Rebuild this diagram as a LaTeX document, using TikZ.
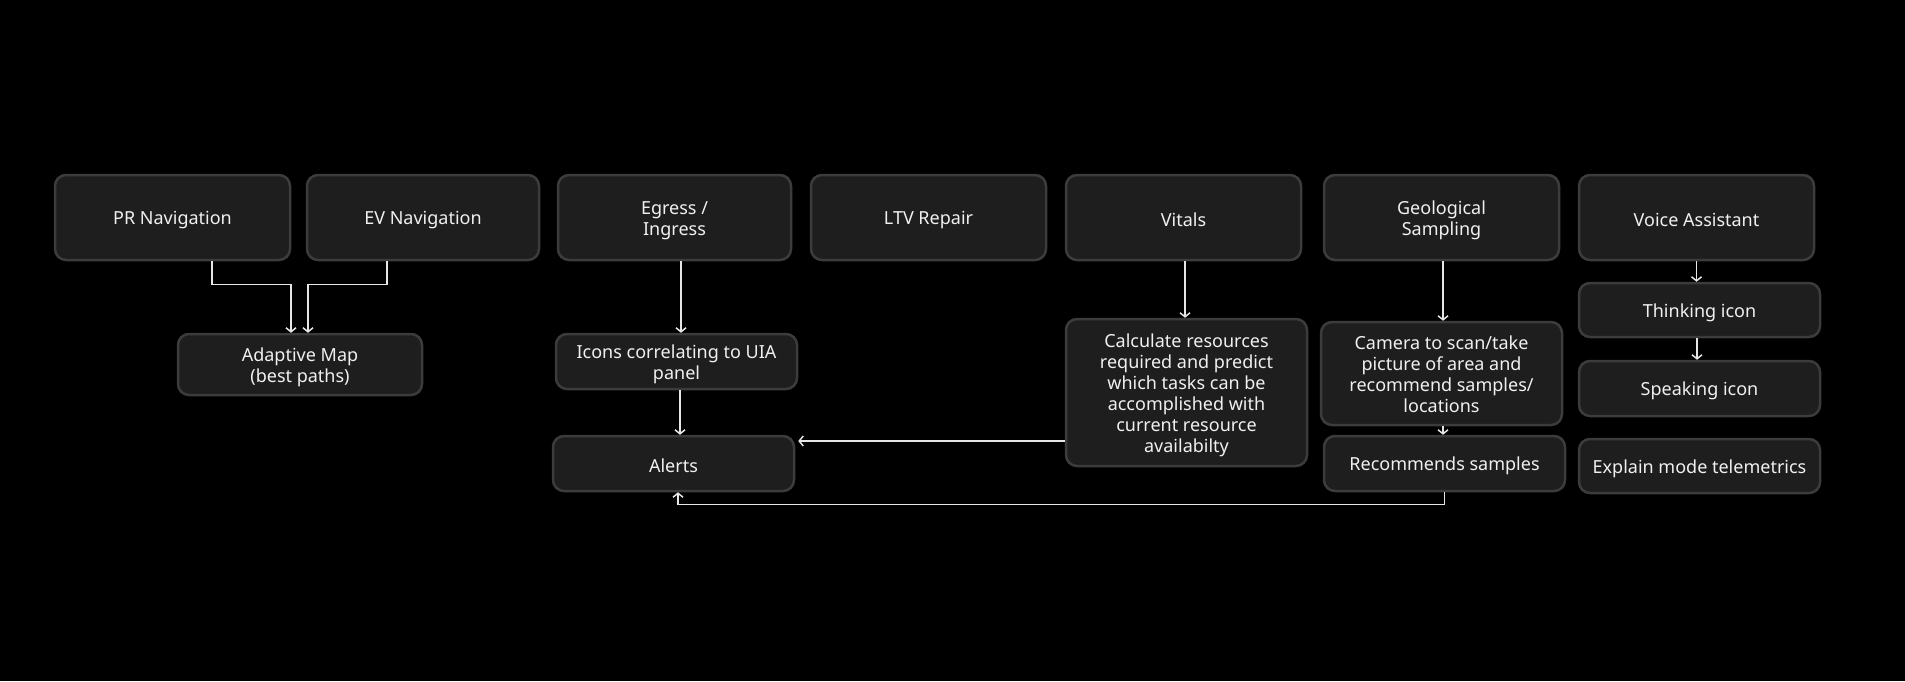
\documentclass[tikz,border=0pt]{standalone}
\usepackage{fontspec}
\setmainfont{Noto Sans}
\usetikzlibrary{arrows.meta}
\definecolor{bg}{HTML}{000000}
\definecolor{boxfill}{HTML}{1E1E1E}
\definecolor{boxline}{HTML}{3C3C3C}
\definecolor{txt}{HTML}{F0F0F0}
\definecolor{wire}{HTML}{E6E6E6}
\newcommand{\topstrut}{\rule{0pt}{19pt}}
\newcommand{\botstrut}{\rule[-2pt]{0pt}{2pt}}
\newcommand{\ml}[1]{\raisebox{-3.3pt}[\height][\depth]{\begin{tabular}{@{}c@{}}#1\end{tabular}}}
\tikzset{
  box/.style={draw=boxline, fill=boxfill, line width=2.5pt, rounded corners=11pt,
    text=txt, align=center, inner sep=0pt, font=\fontsize{18}{21}\selectfont,
    execute at begin node=\topstrut, execute at end node=\botstrut},
  topbox/.style={box, minimum width=235pt, minimum height=85pt},
  arr/.style={draw=wire, line width=1.5pt, -{Straight Barb[length=4pt,width=10pt]}}
}
\begin{document}
\begin{tikzpicture}[x=1pt,y=-1pt]
\fill[bg] (0,0) rectangle (1905,681);
\useasboundingbox (0,0) rectangle (1905,681);
% top row
\node[topbox] (pr)  at (172.5,217.5) {PR Navigation};
\node[topbox, minimum width=232pt] (ev)  at (423,217.5) {EV Navigation};
\node[topbox, minimum width=233pt] (eg)  at (674.5,217.5) {\ml{Egress /\\Ingress}};
\node[topbox] (ltv) at (928.5,217.5) {LTV Repair};
\node[topbox] (vi)  at (1183.5,217.5) {Vitals};
\node[topbox] (geo) at (1441.5,217.5) {\ml{Geological\\Sampling}};
\node[topbox] (va)  at (1696.5,217.5) {Voice Assistant};
% lower boxes
\node[box, minimum width=244pt, minimum height=61pt] (am) at (300,364.5) {\ml{Adaptive Map\\(best paths)}};
\node[box, minimum width=241pt, minimum height=55pt] (ic) at (676.5,361.5) {\ml{Icons correlating to UIA\\panel}};
\node[box, minimum width=241pt, minimum height=55pt] (al) at (673.5,463.5) {Alerts};
\node[box, minimum width=241pt, minimum height=147pt] (ca) at (1186.5,392.5) {\ml{Calculate resources\\required and predict\\which tasks can be\\accomplished with\\current resource\\availabilty}};
\node[box, minimum width=241pt, minimum height=103pt] (cam) at (1441.5,373.5) {\ml{Camera to scan/take\\picture of area and\\recommend samples/\\locations}};
\node[box, minimum width=241pt, minimum height=55pt] (rec) at (1444.5,463.5) {Recommends samples};
\node[box, minimum width=241pt, minimum height=54pt] (th) at (1699.5,310) {Thinking icon};
\node[box, minimum width=241pt, minimum height=55pt] (sp) at (1699.5,388.5) {Speaking icon};
\node[box, minimum width=241pt, minimum height=54pt] (ex) at (1699.5,466) {Explain mode telemetrics};
% connectors
\draw[arr] ([xshift=39.5pt]pr.south) -- ++(0,23) -| ([xshift=-9pt]am.north);
\draw[arr] ([xshift=-36pt]ev.south) -- ++(0,23) -| ([xshift=8pt]am.north);
\draw[arr] ([xshift=6.5pt]eg.south) -- ([xshift=6.5pt]eg.south |- ic.north);
\draw[arr] ([xshift=3.5pt]ic.south) -- ([xshift=3.5pt]ic.south |- al.north);
\draw[arr] ([xshift=1.5pt]vi.south) -- ([xshift=1.5pt]vi.south |- ca.north);
\draw[arr, shorten >=3pt] ([yshift=-48.5pt]ca.west) -- ([yshift=-48.5pt]ca.west -| al.east);
\draw[arr] ([xshift=1.5pt]geo.south) -- ([xshift=1.5pt]geo.south |- cam.north);
\draw[arr] ([xshift=1.5pt]cam.south) -- ([xshift=1.5pt]cam.south |- rec.north);
\draw[arr] (rec.south) -- ++(0,12) -| ([xshift=4.5pt]al.south);
\draw[arr] (va.south) -- (va.south |- th.north);
\draw[arr] ([xshift=-2.5pt]th.south) -- ([xshift=-2.5pt]th.south |- sp.north);
\end{tikzpicture}
\end{document}
